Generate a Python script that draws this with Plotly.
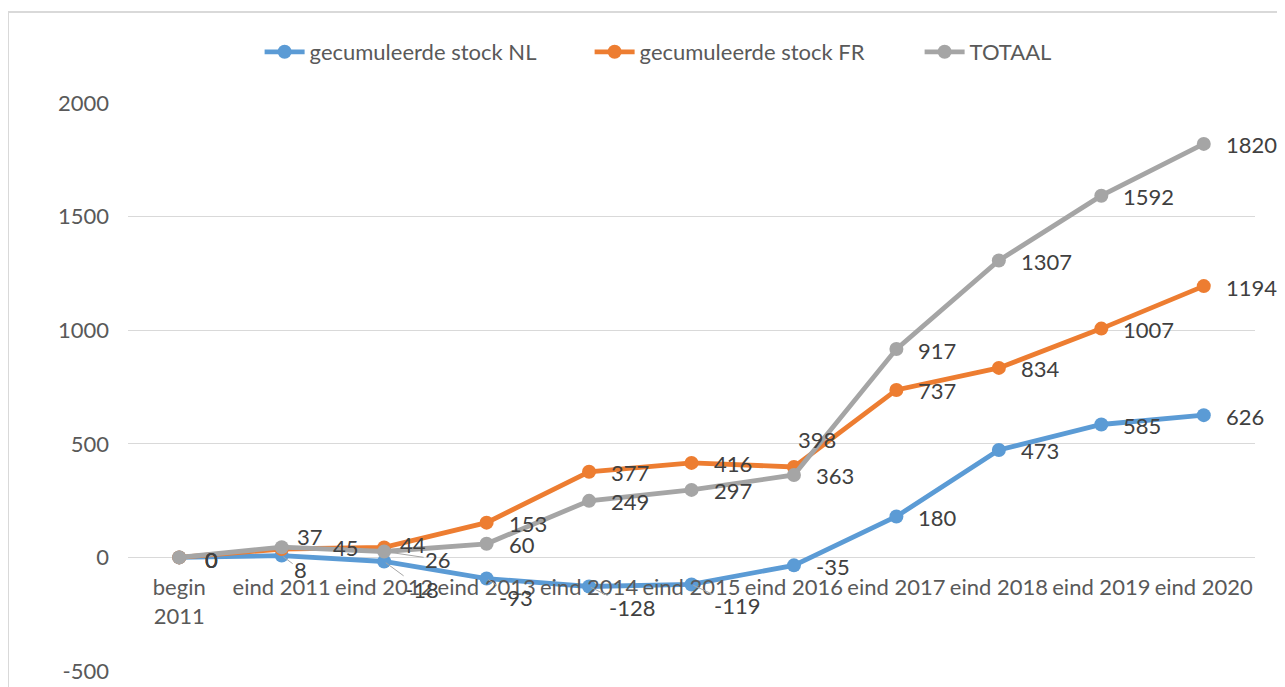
import plotly.graph_objects as go

categories = ["begin<br>2011", "eind 2011", "eind 2012", "eind 2013", "eind 2014", "eind 2015",
              "eind 2016", "eind 2017", "eind 2018", "eind 2019", "eind 2020"]
nl = [0, 8, -18, -93, -128, -119, -35, 180, 473, 585, 626]
fr = [0, 37, 44, 153, 377, 416, 398, 737, 834, 1007, 1194]
totaal = [0, 45, 26, 60, 249, 297, 363, 917, 1307, 1592, 1820]
y_ticks = [-500, 0, 500, 1000, 1500, 2000]

# label placement: (dx, dy, leader) in pixels; leader labels are centre-offset with a leader line
D = (20, 1, False)
nl_lab = [(24, 2, False), (19, 14, True), (38, 28, True), (29, 19, True), (43, 21, True), (45, 21, True),
          D, D, D, D, D]
fr_lab = [(24, 2, False), (13, -12, False), (14, -3, False), D, D, D,
          (2, -27, False), D, D, D, D]
tot_lab = [(24, 2, False), (49, 0, False), (54, 8, True), D, D, D, D, D, D, D, D]

FONT = "Lato"
TXT = "#595959"
LBL = "#404040"
FS = 22
x = list(range(len(categories)))

fig = go.Figure()
annotations = []
for name, vals, col, labs in [
    ("gecumuleerde stock NL", nl, "#5B9BD5", nl_lab),
    ("gecumuleerde stock FR", fr, "#ED7D31", fr_lab),
    ("TOTAAL", totaal, "#A5A5A5", tot_lab),
]:
    fig.add_trace(go.Scatter(
        x=x, y=vals, name=name, mode="lines+markers",
        line=dict(color=col, width=4.8),
        marker=dict(color=col, size=14),
        cliponaxis=False,
    ))
    for xi, v, (dx, dy, leader) in zip(x, vals, labs):
        if leader:
            annotations.append(dict(
                x=xi, y=v, xref="x", yref="y", text=str(v), showarrow=True,
                ax=dx, ay=dy, arrowhead=0, arrowwidth=1, arrowcolor="#A6A6A6",
                standoff=2, font=dict(family=FONT, size=FS, color=LBL),
            ))
        else:
            annotations.append(dict(
                x=xi, y=v, xref="x", yref="y", text=str(v), showarrow=False,
                xanchor="left", yanchor="middle", xshift=dx, yshift=-dy,
                font=dict(family=FONT, size=FS, color=LBL),
            ))

fig.update_layout(
    width=1277, height=679,
    margin=dict(l=120, r=30, t=95, b=16, autoexpand=False),
    paper_bgcolor="white", plot_bgcolor="white",
    font=dict(family=FONT, size=FS, color=TXT),
    showlegend=True,
    legend=dict(orientation="h", x=0.556, xanchor="center", y=1.0898, yanchor="middle",
                font=dict(family=FONT, size=FS, color=TXT), traceorder="normal",
                entrywidth=275, itemwidth=40),
    xaxis=dict(
        tickmode="array", tickvals=x, ticktext=categories,
        range=[-0.5, len(categories) - 0.5],
        anchor="free", position=0.2,
        showgrid=False, zeroline=False, showline=False, ticks="",
        tickfont=dict(family=FONT, size=FS, color=TXT),
        ticklabelstandoff=15,
    ),
    yaxis=dict(
        range=[-500, 2000], tickmode="array", tickvals=y_ticks,
        ticktext=[str(v) for v in y_ticks],
        showgrid=True, gridcolor="#D9D9D9", gridwidth=1.3,
        zeroline=False, showline=False, ticks="",
        tickfont=dict(family=FONT, size=FS, color=TXT),
        ticklabelstandoff=18,
    ),
    annotations=annotations,
    shapes=[dict(type="rect", xref="paper", yref="paper",
                 x0=-0.1065, x1=1.03, y0=-0.1, y1=1.160,
                 line=dict(color="#D9D9D9", width=2), layer="below")],
)

fig.write_html("out.html")
